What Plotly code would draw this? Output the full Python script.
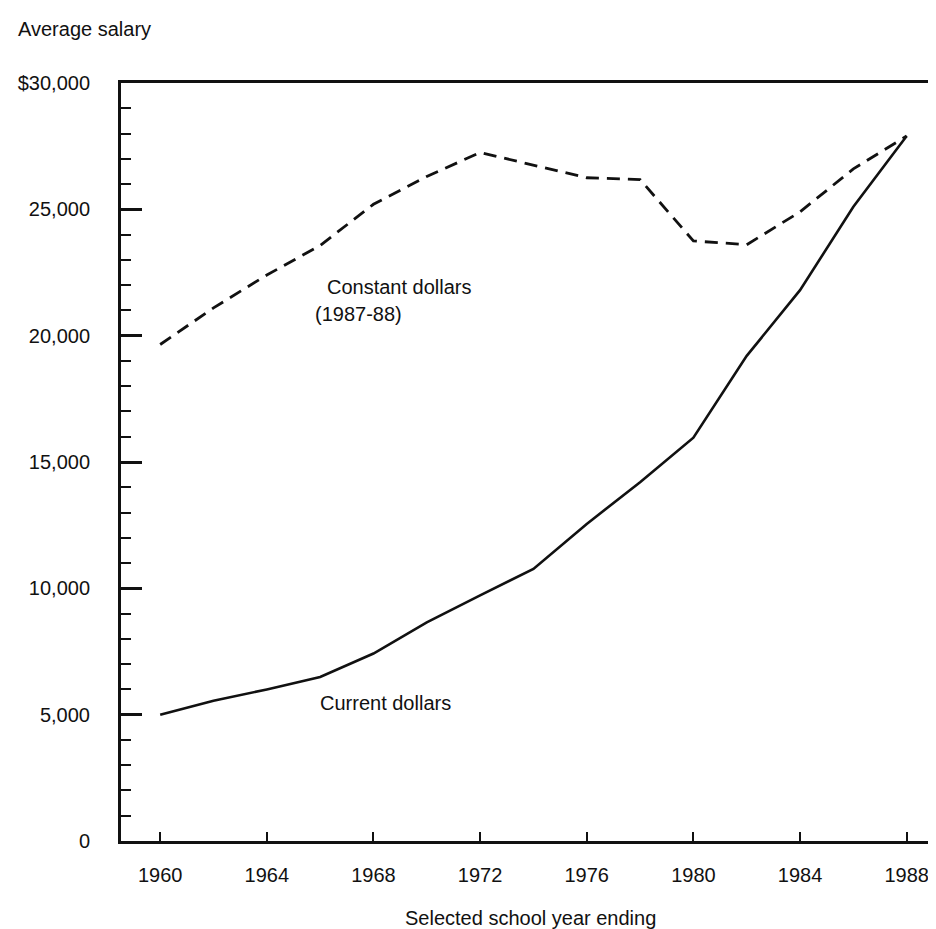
import plotly.graph_objects as go

# school years ending
YEARS = [1960, 1962, 1964, 1966, 1968, 1970, 1972, 1974, 1976, 1978, 1980, 1982, 1984, 1986, 1988]
CURRENT = [5000, 5550, 6000, 6490, 7420, 8650, 9720, 10770, 12550, 14200, 15960, 19200, 21800, 25100, 27900]
CONSTANT = [19650, 21100, 22400, 23570, 25200, 26300, 27250, 26750, 26250, 26180, 23750, 23600, 24900, 26600, 27900]

X_TICKS = [1960, 1964, 1968, 1972, 1976, 1980, 1984, 1988]
Y_TICKS = [0, 5000, 10000, 15000, 20000, 25000, 30000]
Y_TICK_TEXT = ["0", "5,000", "10,000", "15,000", "20,000", "25,000", "$30,000"]

FONT = "Liberation Sans, Arial, Helvetica, sans-serif"
INK = "#111111"


def main():
    fig = go.Figure()

    fig.add_trace(go.Scatter(
        x=YEARS, y=CONSTANT, mode="lines",
        line=dict(color=INK, width=2.8, dash="13px,8px"),
        name="Constant dollars (1987-88)",
    ))
    fig.add_trace(go.Scatter(
        x=YEARS, y=CURRENT, mode="lines",
        line=dict(color=INK, width=2.6),
        name="Current dollars",
    ))

    fig.update_layout(
        width=936,
        height=929,
        margin=dict(l=113, r=0, t=75, b=96),
        paper_bgcolor="white",
        plot_bgcolor="white",
        showlegend=False,
        font=dict(family=FONT, size=20, color=INK),
    )

    fig.update_xaxes(
        range=[1958.53, 1989.40],
        tickvals=X_TICKS,
        ticks="inside", ticklen=9, tickwidth=2, tickcolor=INK,
        ticklabelstandoff=14,
        showline=True, linewidth=2.5, linecolor=INK, mirror=True,
        showgrid=False, zeroline=False,
    )
    fig.update_yaxes(
        range=[0, 30000],
        tickvals=Y_TICKS, ticktext=Y_TICK_TEXT,
        ticks="inside", ticklen=21, tickwidth=2.5, tickcolor=INK,
        ticklabelstandoff=24,
        minor=dict(dtick=1000, ticks="inside", ticklen=10, tickwidth=2, tickcolor=INK),
        showline=True, linewidth=3, linecolor=INK,
        showgrid=False, zeroline=False,
    )

    notes = [
        ("Average salary", -0.1276, 1.0712, "left"),
        ("Constant dollars", 0.2479, 0.7309, "left"),
        ("(1987-88)", 0.2333, 0.6953, "left"),
        ("Current dollars", 0.2394, 0.1821, "left"),
        ("Selected school year ending", 0.498, -0.1015, "center"),
    ]
    for text, x, y, anchor in notes:
        fig.add_annotation(
            text=text, x=x, y=y, xref="paper", yref="paper",
            xanchor=anchor, yanchor="middle", showarrow=False,
            font=dict(family=FONT, size=20, color=INK),
        )

    fig.write_html("out.html")


if __name__ == "__main__":
    main()
